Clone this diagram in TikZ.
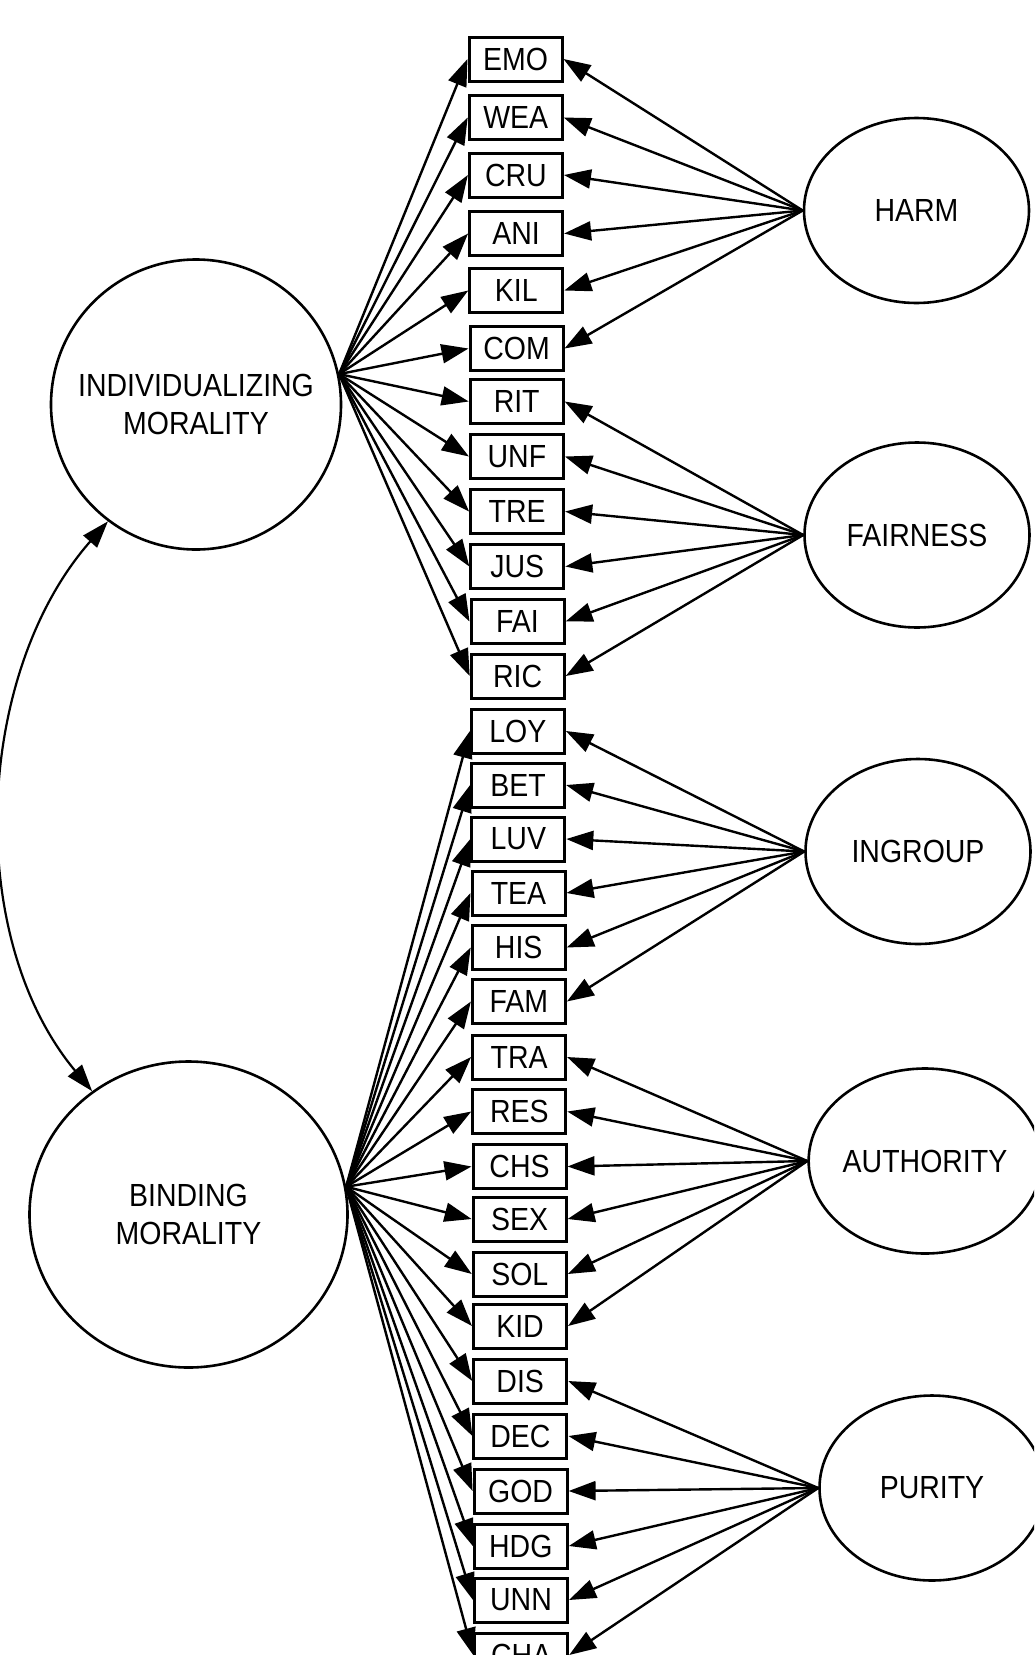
\documentclass[tikz,border=0pt]{standalone}
\usepackage{fontspec}
\setmainfont[FakeStretch=0.89]{Liberation Sans}
\usetikzlibrary{arrows.meta,shapes.geometric}
\tikzset{
  itembox/.style={draw, line width=3pt, rectangle, minimum width=93pt, minimum height=44pt, inner sep=0pt, font=\fontsize{32}{36}\selectfont},
  latent/.style={draw, line width=2.6pt, ellipse, inner sep=0pt, align=center, font=\fontsize{32}{38}\selectfont},
  arr/.style={line width=2.4pt, -{Triangle[length=27pt,width=19pt]}},
  darr/.style={line width=2.2pt, {Triangle[length=27pt,width=18pt]}-{Triangle[length=27pt,width=18pt]}}
}
\begin{document}
\begin{tikzpicture}[x=1pt,y=1pt]
\useasboundingbox (0,0) rectangle (1034,-1655);
\clip (0,0) rectangle (1034,-1655);
\fill[white] (0,0) rectangle (1034,-1655);
% observed items
\foreach \n/\y/\x in {EMO/59/515.5, WEA/117.5/515.7, CRU/175/515.9, ANI/233.5/516.1, KIL/290.5/516.3, COM/348.5/516.5,
  RIT/401.5/516.7, UNF/456.5/516.9, TRE/511.5/517.1, JUS/566.5/517.3, FAI/621.5/517.5, RIC/676/517.7,
  LOY/731/517.9, BET/785/518.1, LUV/839/518.3, TEA/893/518.5, HIS/947.5/518.7, FAM/1001.5/518.9,
  TRA/1057/519.1, RES/1111.5/519.3, CHS/1166.5/519.5, SEX/1219/519.6, SOL/1274/519.8, KID/1326/520.0,
  DIS/1381/520.2, DEC/1436/520.4, GOD/1491/520.6, HDG/1546/520.8, UNN/1600/521.0, CHA/1655/521.2}
  \node[itembox] (\n) at (\x,-\y) {\n};
% latent variables
\node[latent, circle, minimum size=290pt] (ind) at (196,-404.5) {INDIVIDUALIZING\\MORALITY};
\node[latent, minimum width=318pt, minimum height=306pt] (bind) at (188.5,-1214.5) {BINDING\\MORALITY};
\node[latent, minimum width=225pt, minimum height=185pt] (harm) at (916.5,-210.5) {HARM};
\node[latent, minimum width=225pt, minimum height=185pt] (fair) at (917,-535) {FAIRNESS};
\node[latent, minimum width=225pt, minimum height=185pt] (ingr) at (918,-851.5) {INGROUP};
\node[latent, minimum width=225pt, minimum height=185pt] (auth) at (925,-1161) {AUTHORITY};
\node[latent, minimum width=225pt, minimum height=185pt] (pur) at (932,-1488) {PURITY};
% loadings
\foreach \n in {EMO,WEA,CRU,ANI,KIL,COM,RIT,UNF,TRE,JUS,FAI,RIC}
  \draw[arr] (ind.12) -- (\n.west);
\foreach \n in {LOY,BET,LUV,TEA,HIS,FAM,TRA,RES,CHS,SEX,SOL,KID,DIS,DEC,GOD,HDG,UNN,CHA}
  \draw[arr] (bind.10) -- (\n.west);
\foreach \n in {EMO,WEA,CRU,ANI,KIL,COM}
  \draw[arr] (harm.west) -- (\n.east);
\foreach \n in {RIT,UNF,TRE,JUS,FAI,RIC}
  \draw[arr] (fair.west) -- (\n.east);
\foreach \n in {LOY,BET,LUV,TEA,HIS,FAM}
  \draw[arr] (ingr.west) -- (\n.east);
\foreach \n in {TRA,RES,CHS,SEX,SOL,KID}
  \draw[arr] (auth.west) -- (\n.east);
\foreach \n in {DIS,DEC,GOD,HDG,UNN,CHA}
  \draw[arr] (pur.west) -- (\n.east);
% correlation
\draw[darr] (ind.233) .. controls +(-133,-151) and +(-129,155) .. (bind.128);
\end{tikzpicture}
\end{document}
